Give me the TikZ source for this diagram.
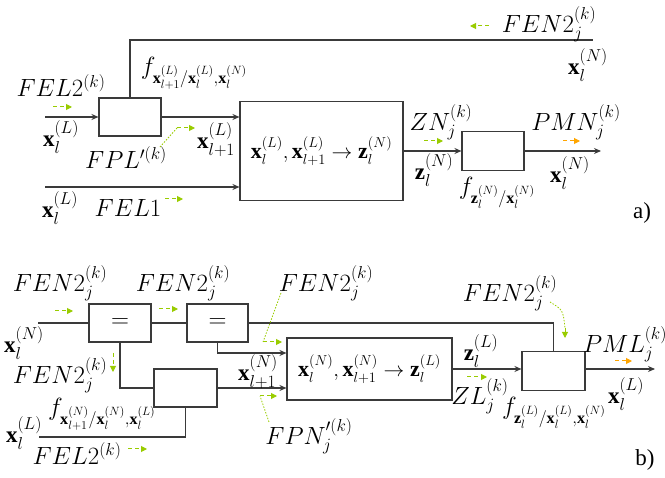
\documentclass[tikz,border=0pt]{standalone}
\usepackage{amsmath,amssymb}
\usepackage{fontspec}
\setmainfont{Liberation Serif}
\usetikzlibrary{positioning, arrows.meta, calc}
\definecolor{wirec}{HTML}{3A3A3A}
\definecolor{msggreen}{HTML}{99CC00}
\definecolor{msgorange}{HTML}{FFA500}
\begin{document}
\begin{tikzpicture}[
    x=1pt, y=-1pt,
    blk/.style={draw=wirec, line width=1.1pt, minimum width=62pt, minimum height=38pt, inner sep=0pt},
    bigblk/.style={draw=wirec, line width=1.1pt, inner sep=0pt, font=\fontsize{22}{26}\selectfont},
    wire/.style={draw=wirec, line width=1.1pt},
    sig/.style={wire, -{Stealth[length=7pt, width=6pt]}},
    lbl/.style={inner sep=0pt, font=\fontsize{23}{27}\selectfont},
    msg/.style={draw=msggreen, line width=1pt, dash pattern=on 4pt off 3pt, -{Triangle[length=6pt, width=6pt, fill=msggreen]}},
    msgo/.style={msg, draw=msgorange, -{Triangle[length=6pt, width=6pt, fill=msgorange]}},
    hint/.style={draw=msggreen, line width=0.8pt, dash pattern=on 1.5pt off 1.5pt}
]
    \useasboundingbox (0,0) rectangle (665,478);

    % ---- a) ----
    % Blocks
    \node[blk] (fxa) at (130,117) {};
    \node[bigblk, minimum width=163pt, minimum height=99pt] (mapa) at (321.5,151)
        {$\mathbf{x}_l^{(L)},\mathbf{x}_{l+1}^{(L)}\rightarrow\mathbf{z}_l^{(N)}$};
    \node[blk, minimum height=39pt] (fza) at (493,151) {};

    % Free ends
    \coordinate (inxa) at (45,117);
    \coordinate (inla) at (45,187);
    \coordinate (topa) at (593,40);
    \coordinate (outa) at (601,151);

    % Lines
    \draw[sig] (inxa) -- (fxa);
    \draw[sig] (fxa.east) -- (fxa.east -| mapa.west);
    \draw[sig] (inla) -- (inla -| mapa.west);
    \draw[wire] (fxa.north) |- (topa);
    \draw[sig] (mapa.east) -- (fza.west);
    \draw[sig] (fza.east) -- (outa);

    % Labels
    \node[lbl] (fel2a) at (61,86) {$FEL2^{(k)}$};
    \node[lbl] (xla) at (61,137) {$\mathbf{x}_l^{(L)}$};
    \node[lbl] (fxlab) at (194,73) {$f_{\mathbf{x}_{l+1}^{(L)}/\mathbf{x}_l^{(L)},\mathbf{x}_l^{(N)}}$};
    \node[lbl] (xlna) at (216,140) {$\mathbf{x}_{l+1}^{(L)}$};
    \node[lbl] (fpla) at (126,158) {$FPL'^{(k)}$};
    \node[lbl] (xlb) at (60,208) {$\mathbf{x}_l^{(L)}$};
    \node[lbl] (fel1a) at (128,208) {$FEL1$};
    \node[lbl] (fen2a) at (549,24) {$FEN2_j^{(k)}$};
    \node[lbl] (xnta) at (588,65) {$\mathbf{x}_l^{(N)}$};
    \node[lbl] (zna) at (441,122) {$ZN_j^{(k)}$};
    \node[lbl] (zla) at (434,170) {$\mathbf{z}_l^{(N)}$};
    \node[lbl] (fzlab) at (497,193) {$f_{\mathbf{z}_l^{(N)}/\mathbf{x}_l^{(N)}}$};
    \node[lbl] (pmna) at (576,122) {$PMN_j^{(k)}$};
    \node[lbl] (xnoa) at (570,173) {$\mathbf{x}_l^{(N)}$};
    \node[lbl] (taga) at (642,213) {a)};

    % Messages
    \draw[msg] (53,107) -- (72,107);
    \draw[hint] (160,147) -- (177,128);
    \draw[msg] (177,128) -- (195,128);
    \draw[msg] (165,199) -- (183,199);
    \draw[msg] (489,26) -- (470,26);
    \draw[msg] (424,141) -- (443,141);
    \draw[msgo] (563,141) -- (580,141);

    % ---- b) ----
    % Blocks
    \node[blk] (eqa) at (120,323) {\fontsize{24}{28}\selectfont$=$};
    \node[blk, minimum width=61pt] (eqb) at (217.5,323) {\fontsize{24}{28}\selectfont$=$};
    \node[blk, minimum width=63pt] (fxb) at (185.5,388) {};
    \node[bigblk, minimum width=165pt, minimum height=62pt] (mapb) at (369.5,369)
        {$\mathbf{x}_l^{(N)},\mathbf{x}_{l+1}^{(N)}\rightarrow\mathbf{z}_l^{(L)}$};
    \node[blk, minimum width=63pt, minimum height=39pt] (fzb) at (553.5,371) {};

    % Free ends
    \coordinate (inxb) at (38,323);
    \coordinate (inlb) at (39,437);
    \coordinate (outb) at (655,369);

    % Lines
    \draw[wire] (inxb) -- (eqa);
    \draw[wire] (eqa) -- (eqb);
    \draw[wire] (eqb.east) -| (fzb.north);
    \draw[sig] (eqb.south) |- ([yshift=16pt]mapb.west);
    \draw[wire] (eqa.south) |- (fxb.west);
    \draw[sig] (fxb.east) -- (fxb.east -| mapb.west);
    \draw[wire] (inlb) -| (fxb.south);
    \draw[sig] (mapb.east) -- (mapb.east -| fzb.west);
    \draw[sig] (mapb.east -| fzb.east) -- (outb);

    % Labels
    \node[lbl] (fen2b) at (60,283) {$FEN2_j^{(k)}$};
    \node[lbl] (fen2c) at (183,283) {$FEN2_j^{(k)}$};
    \node[lbl] (xnb) at (24,343) {$\mathbf{x}_l^{(N)}$};
    \node[lbl] (fen2d) at (60,375) {$FEN2_j^{(k)}$};
    \node[lbl] (fxnlab) at (102,414) {$f_{\mathbf{x}_{l+1}^{(N)}/\mathbf{x}_l^{(N)},\mathbf{x}_l^{(L)}}$};
    \node[lbl] (xlbb) at (24,433) {$\mathbf{x}_l^{(L)}$};
    \node[lbl] (fel2b) at (77,454) {$FEL2^{(k)}$};
    \node[lbl] (xnnb) at (258,372) {$\mathbf{x}_{l+1}^{(N)}$};
    \node[lbl] (fen2e) at (326,283) {$FEN2_j^{(k)}$};
    \node[lbl] (fpnb) at (309,436) {$FPN_j'^{(k)}$};
    \node[lbl] (zlb) at (481,351) {$\mathbf{z}_l^{(L)}$};
    \node[lbl] (zlbl) at (480,396) {$ZL_j^{(k)}$};
    \node[lbl] (fen2f) at (510,293) {$FEN2_j^{(k)}$};
    \node[lbl] (pmlb) at (625,344) {$PML_j^{(k)}$};
    \node[lbl] (xlob) at (626,394) {$\mathbf{x}_l^{(L)}$};
    \node[lbl] (fzlbb) at (554,413) {$f_{\mathbf{z}_l^{(L)}/\mathbf{x}_l^{(L)},\mathbf{x}_l^{(N)}}$};
    \node[lbl] (tagb) at (645,460) {b)};

    % Messages
    \draw[msg] (55,311) -- (73,311);
    \draw[msg] (159,309) -- (178,309);
    \draw[msg] (113,353) -- (113,372);
    \draw[msg] (128,449) -- (147,449);
    \draw[hint] (281,293) -- (263,342);
    \draw[msg] (263,342) -- (282,342);
    \draw[hint] (269,422) -- (260,396);
    \draw[msg] (260,396) -- (277,396);
    \draw[msg] (467,377) -- (487,377);
    \draw[hint] (550,302) .. controls (563,310) .. (565,328);
    \draw[draw=msggreen, line width=1pt, -{Triangle[length=6pt, width=6pt, fill=msggreen]}] (565,328) -- (565,338);
    \draw[msgo] (615,361) -- (632,361);
\end{tikzpicture}
\end{document}
